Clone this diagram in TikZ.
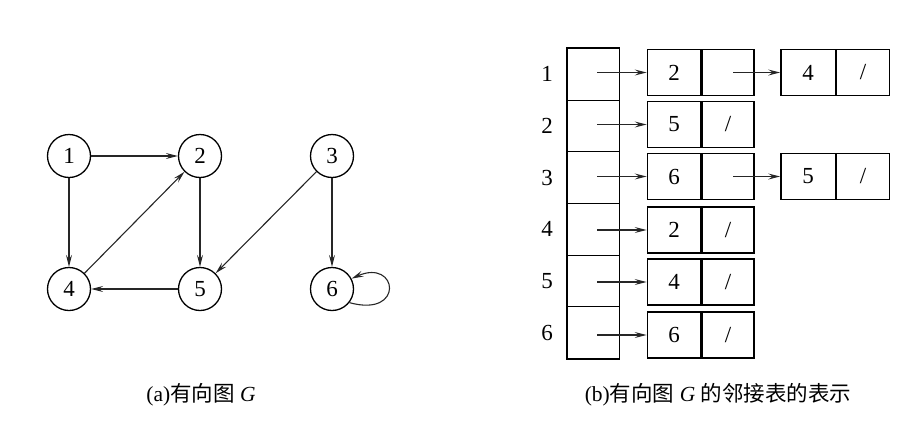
\documentclass[tikz,border=0pt]{standalone}
\usepackage{fontspec}
\setmainfont{Liberation Serif}
\newfontfamily\cjk{Noto Sans CJK SC}
\usetikzlibrary{arrows.meta}
\begin{document}
\begin{tikzpicture}[x=1pt,y=-1pt,
  vtx/.style={circle,draw,line width=1.3pt,minimum size=43pt,inner sep=0pt,font=\fontsize{23}{23}\selectfont},
  arr/.style={-{Stealth[length=12pt,width=6pt,inset=4.5pt,fill=black!45]},line width=1.1pt,draw=black!85},
  head/.style={draw,line width=0.9pt,minimum width=52pt,minimum height=51.7pt,inner sep=0pt},
  cell/.style={draw,line width=1.3pt,minimum height=46pt,inner sep=0pt,font=\fontsize{23}{23}\selectfont},
  lbl/.style={font=\fontsize{23}{23}\selectfont},
  captxt/.style={font=\fontsize{21.5}{21.5}\selectfont}]
\useasboundingbox (0,0) rectangle (913,426);
% (a) graph
\node[vtx] (v1) at (69,156) {1};
\node[vtx] (v2) at (200,156) {2};
\node[vtx] (v3) at (332,156) {3};
\node[vtx] (v4) at (69,289) {4};
\node[vtx] (v5) at (200,289) {5};
\node[vtx] (v6) at (332,289) {6};
\draw[arr] (v1) -- (v2);
\draw[arr] (v1) -- (v4);
\draw[arr] (v2) -- (v5);
\draw[arr] (v4) -- (v2);
\draw[arr] (v3) -- (v5);
\draw[arr] (v3) -- (v6);
\draw[arr] (v5) -- (v4);
\draw[arr] (v6.-38) .. controls (405,318) and (398,258) .. (v6.28);
% (b) adjacency list
\foreach \i/\y in {1/74.2,2/125.9,3/177.6,4/229.3,5/281,6/332.7}{
  \node[head] (h\i) at (593,\y) {};
  \node[lbl] (r\i) at (547,\y) {\i};
}
\draw[line width=1.4pt] (h1.north west) rectangle (h6.south east);
% second column
\foreach \i/\y/\v/\s in {1/72.5/2/{},2/124.5/5/{/},3/176.5/6/{},4/230/2/{/},5/282/4/{/},6/335/6/{/}}{
  \node[cell,minimum width=53.4pt] (d\i) at (674,\y) {\v};
  \node[cell,minimum width=52pt,anchor=west] (p\i) at (d\i.east) {\s};
  \draw[arr] (d\i.west -| h\i.center) ++(4,0) -- (d\i.west);
}
% third column
\node[cell,minimum width=54.3pt] (e1) at (808,72.5) {4};
\node[cell,minimum width=53.3pt,anchor=west] (f1) at (e1.east) {/};
\node[cell,minimum width=54.3pt] (e3) at (808,176.5) {5};
\node[cell,minimum width=53.3pt,anchor=west] (f3) at (e3.east) {/};
\draw[arr] (e1.west -| p1.center) ++(5,0) -- (e1.west);
\draw[arr] (e3.west -| p3.center) ++(5,0) -- (e3.west);
% captions
\node[captxt] (ca) at (201,395) {(a){\cjk 有向图} \textit{G}};
\node[captxt] (cb) at (718,395) {(b){\cjk 有向图} \textit{G} {\cjk 的邻接表的表示}};
\end{tikzpicture}
\end{document}
